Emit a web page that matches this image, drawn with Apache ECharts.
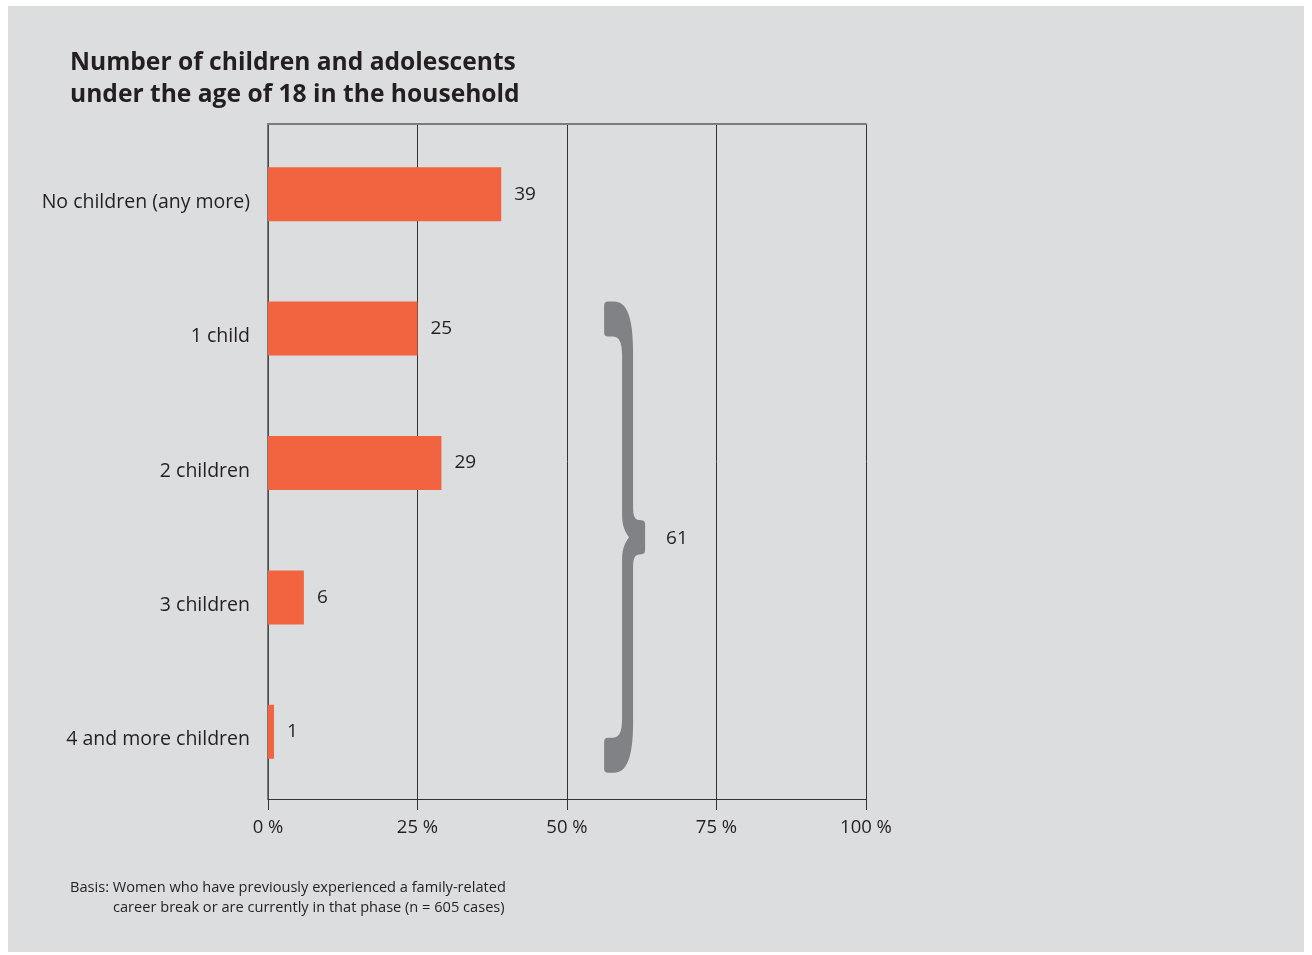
<!DOCTYPE html>
<html>
<head>
<meta charset="utf-8">
<script src="https://cdn.jsdelivr.net/npm/echarts@6/dist/echarts.min.js"></script>
<style>
  html, body { margin: 0; padding: 0; background: #ffffff; }
  #panel { position: absolute; left: 8px; top: 6px; width: 1296px; height: 946px; background: #dcdddf; }
  #chart { position: absolute; left: 0; top: 0; width: 1312px; height: 955px; }
</style>
</head>
<body>
<div id="panel"></div>
<div id="chart"></div>
<script>
// Share of households by number of children under 18 (percent)
const categories = [
  'No children (any more)',
  '1 child',
  '2 children',
  '3 children',
  '4 and more children'
];
const shares = [39, 25, 29, 6, 1];
const xTicks = [0, 25, 50, 75, 100];
// Bracket summarising the households with children: first and last category index, total
const bracketRange = [1, 4];
const bracketTotal = 61;

const FONT = '"Open Sans", "Noto Sans", sans-serif';
const TEXT = '#231f20';
const BAR = '#f26440';
const BRACE = '#808285';
const BRACE_AT = 56.2; // horizontal placement of the bracket on the percent scale

// Curly bracket outline: left edge at x, from top to top + h, tip pointing right
function bracePath(x, top, h) {
  const m = h / 2;
  const p = (dx, dy) => (x + dx).toFixed(1) + ' ' + (top + dy).toFixed(1);
  return [
    'M', p(0, 4), 'Q', p(0, 0), p(4, 0),
    'L', p(10, 0),
    'C', p(22, 0), p(29, 14), p(29, 50),
    'L', p(29, m - 30),
    'C', p(29, m - 20), p(31, m - 17), p(37, m - 17),
    'Q', p(41, m - 17), p(41, m - 13),
    'L', p(41, m + 13),
    'Q', p(41, m + 17), p(37, m + 17),
    'C', p(31, m + 17), p(29, m + 20), p(29, m + 30),
    'L', p(29, h - 50),
    'C', p(29, h - 14), p(22, h), p(10, h),
    'L', p(4, h),
    'Q', p(0, h), p(0, h - 4),
    'L', p(0, h - 31),
    'Q', p(0, h - 35), p(4, h - 35),
    'L', p(8, h - 35),
    'C', p(15, h - 35), p(18, h - 40), p(18, h - 55),
    'L', p(18, m + 22),
    'C', p(18, m + 10), p(22, m + 4), p(25, m),
    'C', p(22, m - 4), p(18, m - 10), p(18, m - 22),
    'L', p(18, 55),
    'C', p(18, 40), p(15, 35), p(8, 35),
    'L', p(4, 35),
    'Q', p(0, 35), p(0, 31),
    'Z'
  ].join(' ');
}

const chart = echarts.init(document.getElementById('chart'), null, { renderer: 'canvas' });

chart.setOption({
  animation: false,
  backgroundColor: 'transparent',
  textStyle: { fontFamily: FONT },
  title: [
    {
      text: 'Number of children and adolescents\nunder the age of 18 in the household',
      left: 70, top: 47, padding: 0,
      textStyle: { fontFamily: FONT, fontSize: 24.6, fontWeight: 'bold', color: TEXT, lineHeight: 32 }
    },
    {
      text: 'Basis: Women who have previously experienced a family-related',
      left: 70, top: 878, padding: 0,
      textStyle: { fontFamily: FONT, fontSize: 14.6, fontWeight: 'normal', color: TEXT, lineHeight: 20 }
    },
    {
      text: 'career break or are currently in that phase (n = 605 cases)',
      left: 113, top: 898, padding: 0,
      textStyle: { fontFamily: FONT, fontSize: 14.6, fontWeight: 'normal', color: TEXT, lineHeight: 20 }
    }
  ],
  grid: [
    { left: 268, right: 446, top: 124, bottom: 156 },
    { left: 268, right: 446, top: 127, bottom: 156 }
  ],
  xAxis: [
    {
      gridIndex: 0, type: 'value', min: xTicks[0], max: xTicks[xTicks.length - 1],
      interval: xTicks[1] - xTicks[0],
      axisLine: { show: true, lineStyle: { color: '#333333', width: 1 } },
      axisTick: { show: true, length: 11, lineStyle: { color: '#333333', width: 1 } },
      axisLabel: {
        formatter: v => v + ' %', fontSize: 18.5, color: TEXT, margin: 19, fontFamily: FONT
      },
      splitLine: { show: true, lineStyle: { color: '#333333', width: 1 } }
    },
    {
      gridIndex: 0, type: 'value', position: 'top', min: 0, max: 100,
      axisLine: { show: true, lineStyle: { color: '#7c7c7c', width: 2 } },
      axisTick: { show: false }, axisLabel: { show: false }, splitLine: { show: false }
    },
    {
      gridIndex: 1, type: 'value', min: 0, max: 100, show: false,
      splitLine: { show: false }
    }
  ],
  yAxis: [
    {
      gridIndex: 0, type: 'value', min: 0, max: 1,
      axisLine: { show: true, onZero: false, lineStyle: { color: '#555555', width: 1.5 } },
      axisTick: { show: false }, axisLabel: { show: false }, splitLine: { show: false }
    },
    {
      gridIndex: 1, type: 'category', data: categories, inverse: true,
      axisLine: { show: false }, axisTick: { show: false }, splitLine: { show: false },
      axisLabel: {
        fontSize: 19.5, color: TEXT, margin: 18, fontFamily: FONT,
        verticalAlign: 'top', lineHeight: 16
      }
    }
  ],
  series: [
    {
      type: 'bar', xAxisIndex: 2, yAxisIndex: 1,
      data: shares, barWidth: 54,
      itemStyle: { color: BAR },
      label: {
        show: true, position: 'right', distance: 13,
        fontSize: 19, color: TEXT, fontFamily: FONT
      }
    },
    {
      type: 'custom', xAxisIndex: 2, yAxisIndex: 1, clip: false, silent: true,
      data: [[BRACE_AT, bracketRange[0], bracketRange[1], bracketTotal]],
      renderItem: function (params, api) {
        const first = api.coord([api.value(0), api.value(1)]);
        const last = api.coord([api.value(0), api.value(2)]);
        const top = first[1] - 27;
        const bottom = last[1] + 41;
        const h = bottom - top;
        return {
          type: 'group',
          children: [
            {
              type: 'path',
              shape: { pathData: bracePath(first[0], top, h) },
              style: { fill: BRACE, stroke: null }
            },
            {
              type: 'text',
              style: {
                text: String(api.value(3)),
                x: first[0] + 62, y: top + h / 2 + 1,
                textAlign: 'left', textVerticalAlign: 'middle',
                fontSize: 19, fontFamily: FONT, fill: TEXT
              }
            }
          ]
        };
      }
    }
  ]
});
</script>
</body>
</html>
